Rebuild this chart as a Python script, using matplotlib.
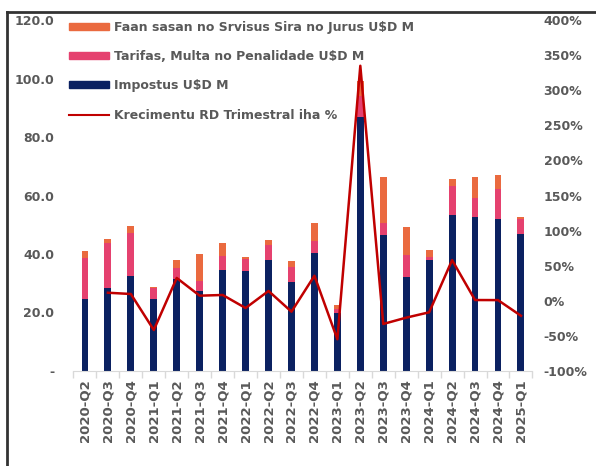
import matplotlib.pyplot as plt
from matplotlib.lines import Line2D
from matplotlib.patches import Patch

# Dadus (lee husi grafiku)
quarters = ["2020-Q2", "2020-Q3", "2020-Q4", "2021-Q1", "2021-Q2", "2021-Q3",
            "2021-Q4", "2022-Q1", "2022-Q2", "2022-Q3", "2022-Q4", "2023-Q1",
            "2023-Q2", "2023-Q3", "2023-Q4", "2024-Q1", "2024-Q2", "2024-Q3",
            "2024-Q4", "2025-Q1"]
impostus = [24.6, 28.4, 32.4, 24.6, 31.6, 27.4, 34.6, 34.3, 38.0, 30.5,
            40.5, 19.7, 86.8, 46.4, 32.0, 37.9, 53.4, 52.7, 51.9, 46.7]
tarifas = [14.0, 15.5, 14.8, 3.8, 3.7, 3.5, 4.8, 3.9, 5.1, 5.1,
           3.9, 1.4, 7.3, 4.3, 7.7, 1.0, 10.0, 6.6, 10.3, 5.4]
faan = [2.3, 1.3, 2.5, 0.3, 2.7, 9.2, 4.5, 0.8, 1.7, 2.0,
        6.3, 1.5, 5.1, 15.6, 9.5, 2.6, 2.3, 7.0, 4.9, 0.5]
krescimentu = [None, 11.5, 9.7, -41.6, 32.5, 7.3, 8.3, -10.3, 14.0, -15.5,
               35.7, -54.8, 334.9, -33.0, -24.0, -16.4, 58.0, 1.1, 1.0, -21.3]

c_navy = "#0B2161"
c_pink = "#E5416F"
c_orange = "#EA6A3F"
c_red = "#C00000"
c_text = "#595959"

fig = plt.figure(figsize=(5.96, 4.66), dpi=100)
ax = fig.add_axes([0.1233, 0.2039, 0.770, 0.753])
ax2 = ax.twinx()

x = list(range(len(quarters)))
w = 0.3
base2 = [a + b for a, b in zip(impostus, tarifas)]
ax.bar(x, impostus, w, color=c_navy, zorder=2)
ax.bar(x, tarifas, w, bottom=impostus, color=c_pink, zorder=2)
ax.bar(x, faan, w, bottom=base2, color=c_orange, zorder=2)

xs = [i for i, v in zip(x, krescimentu) if v is not None]
ys = [v for v in krescimentu if v is not None]
ax2.plot(xs, ys, color=c_red, lw=1.8, zorder=3)

ax.set_xlim(-0.5, len(quarters) - 0.5)
ax.set_ylim(0, 120)
ax2.set_ylim(-100, 400)

ax.set_yticks(range(0, 121, 20))
ax.set_yticklabels(["-"] + [f"{v:.1f}" for v in range(20, 121, 20)])
ax2.set_yticks(range(-100, 401, 50))
ax2.set_yticklabels([f"{v}%" for v in range(-100, 401, 50)])

ax.set_xticks(x)
ax.set_xticklabels(quarters, rotation=90)
ax.set_xticks([i - 0.5 for i in range(len(quarters) + 1)], minor=True)
ax.tick_params(axis="x", which="major", length=0, pad=6)
ax.tick_params(axis="x", which="minor", length=5, color="#D9D9D9", width=1)

for a in (ax, ax2):
    for s in ("top", "left", "right"):
        a.spines[s].set_visible(False)
    a.spines["bottom"].set_color("#D9D9D9")
    a.tick_params(axis="y", length=0, pad=14)
    for lab in a.get_xticklabels():
        lab.set_color(c_text)
        lab.set_fontweight("bold")
        lab.set_fontsize(9.5)
    for lab in a.get_yticklabels():
        lab.set_color(c_text)
        lab.set_fontweight("bold")
        lab.set_fontsize(9)
ax2.tick_params(axis="y", pad=8)
ax2.spines["bottom"].set_visible(False)

handles = [
    Patch(color=c_orange, label="Faan sasan no Srvisus Sira no Jurus U$D M"),
    Patch(color=c_pink, label="Tarifas, Multa no Penalidade U$D M"),
    Patch(color=c_navy, label="Impostus U$D M"),
    Line2D([], [], color=c_red, lw=1.5, label="Krecimentu RD Trimestral iha %"),
]
leg = ax2.legend(handles=handles, loc="upper left", bbox_to_anchor=(-0.035, 1.03),
                 frameon=False, handlelength=3.2, handleheight=0.5,
                 labelspacing=1.3, handletextpad=0.4,
                 prop={"weight": "bold", "size": 9})
for t in leg.get_texts():
    t.set_color(c_text)

# ramka
fig.add_artist(Line2D([0.012, 0.012], [0, 0.975], color="#333333", lw=2,
                      transform=fig.transFigure))
fig.add_artist(Line2D([0.012, 1.0], [0.975, 0.975], color="#333333", lw=2,
                      transform=fig.transFigure))

fig.savefig("out.png", dpi=100)
